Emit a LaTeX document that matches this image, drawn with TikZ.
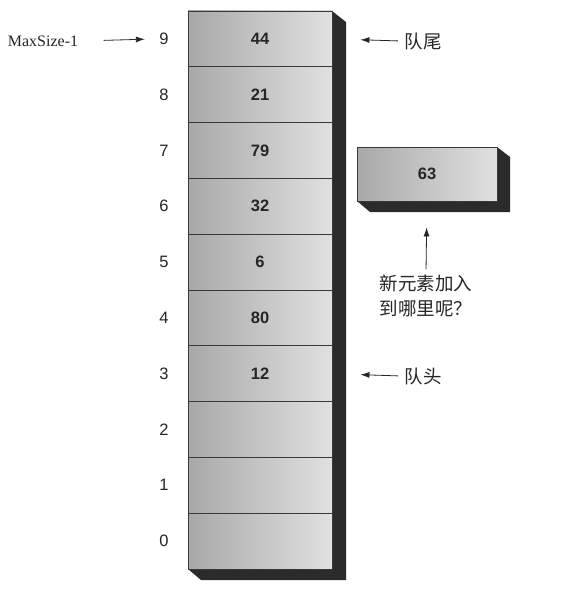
\documentclass[tikz,border=0pt]{standalone}
\usepackage{fontspec}
\usepackage{tikz}
\usetikzlibrary{arrows.meta}
\setmainfont{Liberation Serif}
\setsansfont{Liberation Sans}
\newfontfamily\cjk{Noto Sans CJK SC}

\begin{document}
\begin{tikzpicture}[>={Latex[length=9pt,width=6pt]}, x=1pt, y=-1pt,
  cell/.style={draw=queueline, line width=0.9pt, left color=queuedark, right color=queuelight,
    minimum width=144pt, minimum height=55.8pt, inner sep=0pt,
    font=\sffamily\bfseries\fontsize{16.5}{18}\selectfont, text=queuetext},
  idx/.style={font=\sffamily\fontsize{16.5}{18}\selectfont, text=queuetext},
  cn/.style={font=\cjk\fontsize{18.5}{25}\selectfont, text=queuetext},
  arr/.style={->, line width=0.8pt, draw=queuetext}]

\definecolor{queuedark}{rgb}{0.66,0.66,0.66}
\definecolor{queuelight}{rgb}{0.88,0.88,0.88}
\definecolor{queueshadow}{rgb}{0.17,0.17,0.17}
\definecolor{queueline}{rgb}{0.22,0.22,0.22}
\definecolor{queuetext}{rgb}{0.15,0.15,0.15}

\useasboundingbox[fill=white] (0,0) rectangle (579,599);

% shadow of the array
\fill[queueshadow] (332,11)--(346,22)--(346,580)--(201,580)--(188,569)--(332,569)--cycle;

\foreach \v [count=\i from 0] in {,,,12,80,6,32,79,21,44}{
  \node[cell] (cell\i) at (260,{569-55.8*(\i+0.5)}) {\v};
  \node[idx] (idx\i) at (164,{569-55.8*(\i+0.5)}) {\i};
}

\node[font=\fontsize{16}{18}\selectfont, text=queuetext] (maxsz) at (43,41) {MaxSize-1};
\draw[arr, shorten <=22pt, shorten >=11pt] (maxsz.east) -- (idx9.west);

\node[cn, anchor=west] (tail) at (401,41) {队尾};
\draw[arr, shorten >=28pt, shorten <=3pt] (tail.west) -- (cell9.east);

\node[cn, anchor=west] (head) at (401,376) {队头};
\draw[arr, shorten >=28pt, shorten <=3pt] (head.west) -- (cell3.east);

% the new element
\fill[queueshadow] (497,147)--(510,157)--(510,212)--(370,212)--(357,201)--(497,201)--cycle;
\node[cell, minimum width=140pt, minimum height=54pt] (newbox) at (427,174) {63};

\node[cn, align=left] (newq) at (426,296) {新元素加入\\到哪里呢？};
\draw[arr, shorten >=26pt, shorten <=2pt] (newq.north) -- (newbox.south);

\end{tikzpicture}
\end{document}
